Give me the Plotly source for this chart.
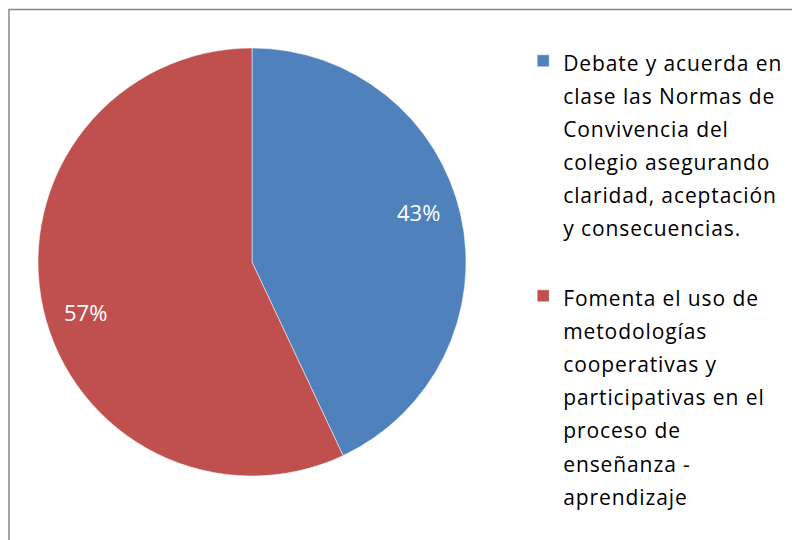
import math
import plotly.graph_objects as go

labels_lines = [
    ["Debate y acuerda en", "clase las Normas de", "Convivencia del",
     "colegio asegurando", "claridad, aceptación", "y consecuencias."],
    ["Fomenta el uso de", "metodologías", "cooperativas y",
     "participativas en el", "proceso de", "enseñanza -", "aprendizaje"],
]
values = [43, 57]
colors = ["#4F81BD", "#C0504D"]

FONT = "Open Sans, Lato, sans-serif"
TEXT_PX = 21
LINE_BASE = 25.5  # base font controls line spacing (1.3 * base)

W, H = 800, 540
# page has an 8px body margin; layout below is in figure pixels
CX, CY, R = 244, 254, 214


def fmt(lines, extra_blank=False):
    spans = [f'<span style="font-size:{TEXT_PX}px;letter-spacing:0.9px">{l}</span>'
             for l in lines]
    if extra_blank:
        spans.append(" ")
    return "<br>".join(spans)


labels = [fmt(labels_lines[0], True), fmt(labels_lines[1])]

fig = go.Figure(go.Pie(
    labels=labels,
    values=values,
    sort=False,
    direction="clockwise",
    rotation=0,
    marker=dict(colors=colors, line=dict(color="white", width=0.5)),
    textinfo="none",
    domain=dict(x=[(CX - R) / W, (CX + R) / W],
                y=[1 - (CY + R) / H, 1 - (CY - R) / H]),
    hoverinfo="label+percent",
))

# percentage labels placed on each slice's bisector (Excel-like best fit)
total = sum(values)
annotations = []
cum = 0
for v in values:
    mid = (cum + v / 2) / total
    cum += v
    th = 2 * math.pi * mid - math.radians(4)
    rl = 0.81 * R
    px = CX + rl * math.sin(th)
    py = CY - rl * math.cos(th)
    annotations.append(dict(
        x=px / W, y=1 - py / H, xref="paper", yref="paper",
        text=f"{round(v / total * 100)}%", showarrow=False,
        font=dict(family=FONT, size=22, color="white"),
        xanchor="center", yanchor="middle",
    ))

fig.update_layout(
    width=W, height=H,
    margin=dict(l=0, r=0, t=0, b=0),
    paper_bgcolor="white",
    font=dict(family=FONT, color="black"),
    showlegend=True,
    legend=dict(
        x=0.644, y=0.945, xanchor="left", yanchor="top",
        font=dict(family=FONT, size=LINE_BASE, color="black"),
        valign="top",
        bgcolor="rgba(0,0,0,0)",
    ),
    annotations=annotations,
    shapes=[dict(
        type="rect", xref="paper", yref="paper",
        x0=1 / W, x1=1.05, y0=-0.05, y1=1 - 1.5 / H,
        line=dict(color="#868686", width=1.5),
        fillcolor="rgba(0,0,0,0)",
    )],
)

fig.write_html("out.html")
